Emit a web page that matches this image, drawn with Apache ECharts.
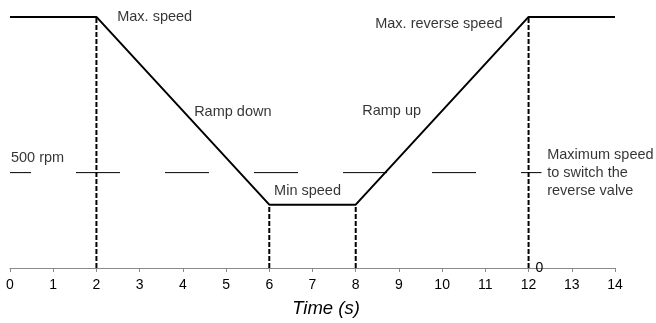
<!DOCTYPE html>
<html>
<head>
<meta charset="utf-8">
<script src="https://cdn.jsdelivr.net/npm/echarts@6/dist/echarts.min.js"></script>
<style>
  html, body { margin: 0; padding: 0; background: #fff; }
  #chart { width: 656px; height: 323px; }
</style>
</head>
<body>
<div id="chart"></div>
<script>
// Motor speed profile over time (reversal cycle)
const timePoints = [0, 2, 6, 8, 12, 14];
const speedValues = [1316, 1316, 332, 332, 1316, 1316];
const thresholdSpeed = 500;
const thresholdEnd = 12.3;
const markerTimes = [2, 6, 8, 12];
const xTicks = [0, 1, 2, 3, 4, 5, 6, 7, 8, 9, 10, 11, 12, 13, 14];

// Annotation texts with anchor points in data units (time, rpm)
const annotationTexts = ['Max. speed', 'Ramp down', 'Ramp up', 'Max. reverse speed', '500 rpm', 'Min speed', 'Maximum speed\nto switch the\nreverse valve'];
const annotationAnchors = [[2.48, 1316], [4.26, 818], [8.15, 823], [8.45, 1280], [0.02, 575], [6.11, 404], [12.43, 497]];

const FONT = '"Liberation Sans", Arial, Helvetica, sans-serif';
const speedAt = t => speedValues[timePoints.indexOf(t)];

const chart = echarts.init(document.getElementById('chart'), null, { renderer: 'canvas' });

const series = [];

// Dashed vertical markers from the axis up to the speed curve
markerTimes.forEach(t => {
  series.push({
    type: 'line',
    data: [[t, 0], [t, speedAt(t)]],
    symbol: 'none',
    silent: true,
    z: 2,
    lineStyle: { color: '#000', width: 2, type: [5, 2] }
  });
});

// Reverse valve threshold
series.push({
  type: 'line',
  data: [[0, thresholdSpeed], [thresholdEnd, thresholdSpeed]],
  symbol: 'none',
  silent: true,
  z: 2,
  lineStyle: { color: '#000', width: 1, type: [44, 45], dashOffset: 23 }
});

// Speed curve
series.push({
  type: 'line',
  data: timePoints.map((t, i) => [t, speedValues[i]]),
  symbol: 'none',
  z: 3,
  lineStyle: { color: '#000', width: 2 }
});

// Text annotations
series.push({
  type: 'scatter',
  symbolSize: 0.1,
  silent: true,
  itemStyle: { color: 'transparent' },
  data: annotationAnchors.map((p, i) => ({ value: p, name: annotationTexts[i] })),
  label: {
    show: true,
    position: 'right',
    distance: 0,
    formatter: p => p.name,
    color: '#000',
    fontFamily: FONT,
    fontSize: 14.5,
    lineHeight: 18,
    align: 'left',
    verticalAlign: 'middle'
  },
  z: 4
});

chart.setOption({
  animation: false,
  backgroundColor: '#fff',
  grid: { left: 10, right: 41, top: 10.45, bottom: 52, containLabel: false },
  xAxis: {
    type: 'value',
    min: xTicks[0],
    max: xTicks[xTicks.length - 1],
    interval: 1,
    name: 'Time (s)',
    nameLocation: 'middle',
    nameGap: 31,
    nameTextStyle: {
      fontFamily: FONT,
      fontSize: 18.5,
      fontStyle: 'italic',
      color: '#000',
      padding: [0, 0, 0, 27]
    },
    axisLine: { show: true, lineStyle: { color: '#8a8a8a', width: 1 } },
    axisTick: { show: true, length: 4, lineStyle: { color: '#8a8a8a' } },
    axisLabel: { fontFamily: FONT, fontSize: 14, color: '#000', margin: 10 },
    splitLine: { show: false }
  },
  yAxis: {
    type: 'value',
    position: 'right',
    offset: -86.4,
    min: 0,
    max: 1350,
    interval: 1350,
    axisLine: { show: false },
    axisTick: { show: false },
    axisLabel: {
      fontFamily: FONT,
      fontSize: 14,
      color: '#000',
      margin: 7,
      formatter: v => (v === 0 ? '0' : '')
    },
    splitLine: { show: false }
  },
  series: series
});
</script>
</body>
</html>
